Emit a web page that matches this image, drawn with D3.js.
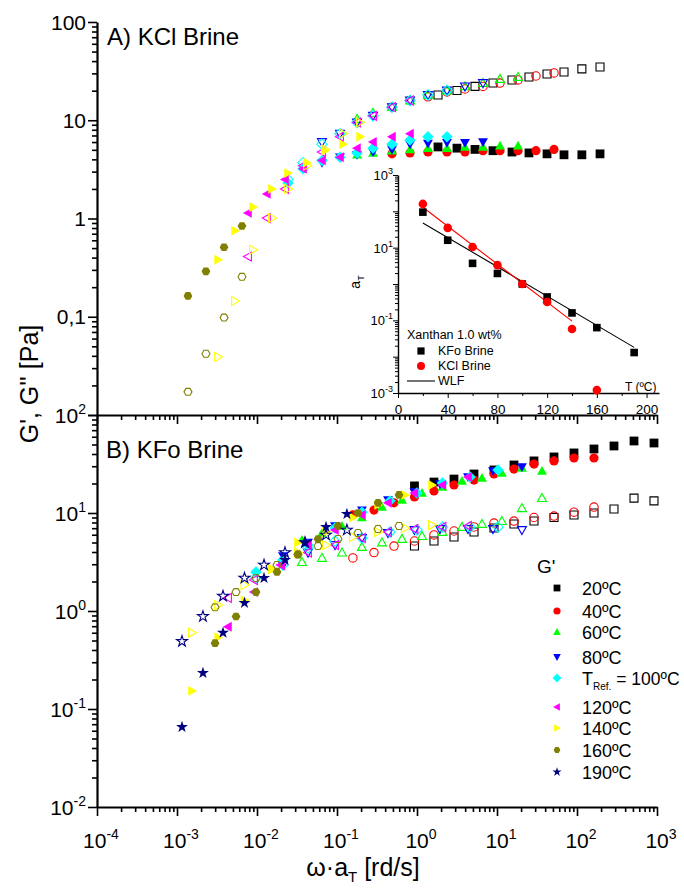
<!DOCTYPE html>
<html>
<head>
<meta charset="utf-8">
<script src="https://cdn.jsdelivr.net/npm/d3@7"></script>
<style>
body { margin: 0; background: #fff; }
text { font-family: "Liberation Sans", Arial, sans-serif; fill: #000; }
</style>
</head>
<body>
<svg id="chart" width="684" height="893"></svg>
<script>
// temperatures and labels
var tempLabels = ["20ºC", "40ºC", "60ºC", "80ºC", "100ºC", "120ºC", "140ºC", "160ºC", "190ºC"];

// A) KCl brine, one row per temperature (20..160 ºC)
var kclX = [
  [1.83, 3.16, 5.31, 8.91, 15.4, 25.1, 42.2, 68.8, 115, 194],
  [0.487, 0.818, 1.37, 2.37, 3.98, 6.68, 10.9, 18.3, 30.7, 51.6],
  [0.178, 0.282, 0.487, 0.818, 1.37, 2.37, 3.98, 6.68, 10.9, 18.3],
  [0.0649, 0.109, 0.178, 0.282, 0.487, 0.818, 1.37, 2.37, 3.98, 6.68],
  [0.0244, 0.0376, 0.0649, 0.109, 0.178, 0.282, 0.487, 0.818, 1.37, 2.37],
  [0.00772, 0.0133, 0.0224, 0.0376, 0.0649, 0.109, 0.178, 0.282, 0.487, 0.818],
  [0.00326, 0.00531, 0.00891, 0.0154, 0.0244, 0.0422, 0.0708, 0.119, 0.194],
  [0.00137, 0.0023, 0.00387, 0.00649]
];
var kclGp = [
  [5.35, 5.2, 5.05, 4.9, 4.75, 4.65, 4.55, 4.45, 4.45, 4.55],
  [4.55, 4.65, 4.75, 4.75, 4.75, 4.9, 4.9, 4.9, 4.9, 5.05],
  [4.45, 4.65, 4.9, 5.05, 5.2, 5.2, 5.35, 5.35, 5.5, 5.5],
  [3.7, 4.2, 4.45, 4.75, 5.05, 5.7, 5.8, 5.9, 5.9, 6.0],
  [2.3, 3.2, 3.9, 4.2, 4.65, 5.2, 5.7, 6.3, 6.8, 6.8],
  [1.14, 1.78, 2.5, 3.2, 3.9, 4.2, 5.2, 6.0, 6.8, 7.3],
  [0.38, 0.75, 1.31, 2.0, 2.9, 3.7, 4.9, 5.7, 6.8],
  [0.163, 0.29, 0.51, 0.84]
];
var kclGpp = [
  [18.1, 20.1, 22.1, 23.9, 25.7, 27.6, 29.6, 31.0, 33.3, 34.8],
  [13.6, 15.9, 17.3, 19.4, 20.8, 22.1, 23.9, 25.7, 28.2, 30.3],
  [10.3, 11.9, 13.6, 15.9, 18.1, 20.1, 22.1, 23.9, 26.3, 27.6],
  [6.0, 7.3, 9.5, 11.1, 13.6, 15.9, 18.1, 20.1, 22.1, 23.9],
  [2.5, 3.7, 5.7, 7.3, 9.5, 11.1, 13.6, 15.9, 18.1, 20.1],
  [0.41, 1.01, 2.0, 3.45, 4.75, 6.8, 9.5, 11.1, 13.6, 15.9],
  [0.039, 0.145, 0.48, 1.01, 2.0, 3.45, 5.05, 7.3, 9.5],
  [0.0172, 0.042, 0.098, 0.255]
];

// B) KFo brine, one row per temperature (20..190 ºC)
var kfoX = [
  [0.93, 1.63, 2.90, 5.16, 9.17, 16.3, 29.0, 51.6, 91.7, 163, 290, 516, 917],
  [0.158, 0.290, 0.516, 0.93, 1.63, 2.90, 5.16, 9.17, 16.3, 29.0, 51.6, 91.7, 163],
  [0.0365, 0.0649, 0.1155, 0.205, 0.365, 0.649, 1.155, 2.08, 3.65, 6.49, 11.5, 20.5, 36.5],
  [0.0211, 0.0434, 0.0944, 0.205, 0.434, 0.93, 1.94, 4.34, 8.91, 20.5],
  [0.00972, 0.0211, 0.0434, 0.0944, 0.205, 0.46, 1.0, 2.08, 4.6, 10.3],
  [0.00434, 0.00917, 0.02, 0.0434, 0.0944, 0.205, 0.434, 0.93, 2.08, 4.34],
  [0.00154, 0.00326, 0.00698, 0.0154, 0.0325, 0.0729, 0.158, 0.326, 0.708, 1.54],
  [0.00299, 0.00547, 0.00972, 0.0178, 0.0325, 0.0579, 0.103, 0.183, 0.326, 0.596],
  [0.001155, 0.00211, 0.00376, 0.00698, 0.01224, 0.0224, 0.0398, 0.0729, 0.133]
];
var kfoGp = [
  [18.9, 20.7, 22.2, 25.0, 27.5, 30.9, 34.0, 37.3, 41.0, 45.0, 48.3, 54.3, 51.8],
  [9.55, 10.7, 12.7, 14.6, 16.8, 19.3, 21.7, 25.0, 28.1, 31.6, 34.0, 36.4, 36.4],
  [5.3, 6.25, 7.37, 9.0, 11.5, 13.6, 16.0, 18.4, 21.2, 22.7, 25.6, 28.8, 26.8],
  [3.64, 5.0, 7.37, 10.7, 13.6, 16.4, 19.8, 23.3, 26.8, 29.5],
  [2.5, 3.31, 4.71, 7.03, 10.2, 13.3, 16.0, 20.2, 23.3, 27.5],
  [0.69, 1.56, 2.95, 4.71, 6.71, 9.55, 12.7, 16.0, 19.3, 23.3],
  [0.153, 0.54, 1.29, 2.68, 5.0, 6.4, 9.0, 12.1, 15.3, 19.3],
  [0.47, 0.88, 1.56, 2.5, 3.78, 5.43, 7.37, 10.0, 12.7, 15.3],
  [0.0655, 0.233, 0.6, 1.21, 2.17, 3.31, 5.0, 7.2, 9.77]
];
var kfoGpp = [
  [4.6, 5.18, 5.69, 6.4, 7.03, 7.72, 8.28, 9.0, 9.55, 10.0, 11.0, 14.2, 13.3],
  [3.48, 3.95, 4.6, 5.18, 5.97, 6.55, 7.2, 7.9, 8.28, 9.0, 9.3, 10.2, 11.5],
  [3.16, 3.48, 3.95, 4.5, 5.0, 5.43, 5.82, 6.4, 7.2, 7.72, 8.28, 11.2, 14.2],
  [2.95, 3.95, 4.71, 5.56, 6.25, 6.71, 6.87, 6.87, 6.87, 6.71],
  [2.17, 2.95, 4.4, 5.18, 5.56, 6.4, 6.71, 7.2, 7.2, 7.2],
  [1.36, 2.07, 2.95, 3.95, 4.71, 5.56, 6.4, 6.87, 7.2, 7.37],
  [0.6, 1.15, 1.84, 2.68, 3.95, 4.71, 5.69, 6.4, 7.03, 7.55],
  [1.09, 1.56, 2.17, 2.95, 3.78, 4.6, 5.43, 6.25, 6.87, 7.37],
  [0.49, 0.88, 1.42, 2.17, 2.95, 3.95, 5.0, 5.97, 6.71]
];

// inset: shift factor aT vs temperature
var insetTKFo = [20, 40, 60, 80, 100, 120, 140, 160, 190];
var insetAKFo = [95, 16, 3.7, 1.95, 1, 0.44, 0.16, 0.063, 0.013];
var insetTKCl = [20, 40, 60, 80, 100, 120, 140, 160];
var insetAKCl = [160, 35, 10.4, 3.3, 1, 0.32, 0.058, 0.0012];
var wlfTKFo = [20, 190], wlfAKFo = [48, 0.018];
var wlfTKCl = [20, 140], wlfAKCl = [130, 0.095];

// style per temperature
var colors = ["#000000", "#ff0000", "#00ff00", "#0000ff", "#00ffff", "#ff00ff", "#ffff00", "#808000", "#000080"];
var shapes = ["square", "circle", "up", "down", "diamond", "left", "right", "hex", "star"];

var svg = d3.select("#chart");

var X0 = 97, X1 = 657, Y0 = 22, YM = 415, Y1 = 807;
var x = d3.scaleLog().domain([1e-4, 1e3]).range([X0, X1]);
var yA = d3.scaleLog().domain([1e-2, 1e2]).range([YM, Y0]);
var yB = d3.scaleLog().domain([1e-2, 1e2]).range([Y1, YM]);

// marker path centred on 0,0
function markerPath(shape, r) {
  var a, b;
  switch (shape) {
    case "square": return "M" + (-r) + "," + (-r) + "H" + r + "V" + r + "H" + (-r) + "Z";
    case "circle": return "M" + r + ",0A" + r + "," + r + " 0 1,1 " + (-r) + ",0A" + r + "," + r + " 0 1,1 " + r + ",0Z";
    case "up": a = r * 1.15; b = r * 0.85;
      return "M0," + (-a) + "L" + (r * 1.12) + "," + b + "L" + (-r * 1.12) + "," + b + "Z";
    case "down": a = r * 1.15; b = r * 0.85;
      return "M0," + a + "L" + (r * 1.12) + "," + (-b) + "L" + (-r * 1.12) + "," + (-b) + "Z";
    case "left": a = r * 1.15; b = r * 0.85;
      return "M" + (-a) + ",0L" + b + "," + (-r * 1.12) + "L" + b + "," + (r * 1.12) + "Z";
    case "right": a = r * 1.15; b = r * 0.85;
      return "M" + a + ",0L" + (-b) + "," + (-r * 1.12) + "L" + (-b) + "," + (r * 1.12) + "Z";
    case "diamond": a = r * 1.3;
      return "M0," + (-a) + "L" + a + ",0L0," + a + "L" + (-a) + ",0Z";
    case "hex":
      return "M" + d3.range(6).map(function(i) {
        var t = Math.PI / 3 * i;
        return (r * Math.cos(t)).toFixed(2) + "," + (r * Math.sin(t)).toFixed(2);
      }).join("L") + "Z";
    case "star": return d3.symbol(d3.symbolStar, r * r * 2.3)();
  }
}

// log axis with minor ticks
function logAxis(axisFn, scale, lo, hi, tx, ty, big, small) {
  var majors = d3.range(lo, hi + 1).map(function(k) { return Math.pow(10, k); });
  var minors = [];
  for (var k = lo; k < hi; k++) for (var m = 2; m < 10; m++) minors.push(m * Math.pow(10, k));
  var g = svg.append("g").attr("transform", "translate(" + tx + "," + ty + ")");
  g.append("g").call(axisFn(scale).tickValues(minors).tickSize(small).tickFormat(""))
    .call(function(s) { s.select(".domain").remove(); });
  g.append("g").call(axisFn(scale).tickValues(majors).tickSize(big).tickSizeOuter(0).tickFormat(""));
  return g;
}

var axes = [
  logAxis(d3.axisLeft, yA, -2, 2, X0, 0, 9, 5),
  logAxis(d3.axisLeft, yB, -2, 2, X0, 0, 9, 5),
  logAxis(d3.axisBottom, x, -4, 3, 0, YM, 9, 5),
  logAxis(d3.axisBottom, x, -4, 3, 0, Y1, 9, 5)
];
axes.forEach(function(g) {
  g.selectAll(".domain").attr("stroke-width", 2.2);
  g.selectAll(".tick line").attr("stroke-width", 1.6);
});

// tick labels
var topLabels = [[100, "100"], [10, "10"], [1, "1"], [0.1, "0,1"]];
topLabels.forEach(function(d) {
  svg.append("text").attr("x", 86).attr("y", yA(d[0])).attr("dy", "0.36em")
    .attr("text-anchor", "end").attr("font-size", 21).text(d[1]);
});
function powLabel(px, py, exp, anchor, size, supSize, supRise) {
  var t = svg.append("text").attr("x", px).attr("y", py).attr("text-anchor", anchor).attr("font-size", size);
  t.append("tspan").text("10");
  t.append("tspan").attr("font-size", supSize).attr("dy", -supRise).text(exp);
  return t;
}
[2, 1, 0, -1, -2].forEach(function(k) {
  powLabel(86, yB(Math.pow(10, k)) + 7.5, String(k), "end", 21, 14, 9);
});
[-4, -3, -2, -1, 0, 1, 2, 3].forEach(function(k) {
  powLabel(x(Math.pow(10, k)) + 4, 848, String(k), "middle", 21, 14, 9);
});

// axis titles
svg.append("text").attr("transform", "translate(38,384) rotate(-90)")
  .attr("text-anchor", "middle").attr("font-size", 25).text("G', G'' [Pa]");
var xt = svg.append("text").attr("x", 363).attr("y", 876).attr("text-anchor", "middle").attr("font-size", 25);
xt.append("tspan").text("ω·a");
xt.append("tspan").attr("font-size", 15).attr("dy", 6).text("T");
xt.append("tspan").attr("dy", -6).text(" [rd/s]");

svg.append("text").attr("x", 107).attr("y", 45).attr("font-size", 24).text("A) KCl Brine");
svg.append("text").attr("x", 106).attr("y", 458).attr("font-size", 24).text("B) KFo Brine");

// data points
function drawSet(xs, gps, gpps, yScale) {
  xs.forEach(function(row, i) {
    var pts = row.map(function(v, j) { return { x: v, gp: gps[i][j], gpp: gpps[i][j] }; });
    var g = svg.append("g");
    var r = shapes[i] === "circle" ? 4.6 : 4.4;
    g.selectAll(".f").data(pts).enter().append("path")
      .attr("d", markerPath(shapes[i], r))
      .attr("transform", function(d) { return "translate(" + x(d.x) + "," + yScale(d.gp) + ")"; })
      .attr("fill", colors[i]);
    g.selectAll(".o").data(pts).enter().append("path")
      .attr("d", markerPath(shapes[i], r - 0.4))
      .attr("transform", function(d) { return "translate(" + x(d.x) + "," + yScale(d.gpp) + ")"; })
      .attr("fill", "none").attr("stroke", colors[i]).attr("stroke-width", 1.1);
  });
}
drawSet(kclX, kclGp, kclGpp, yA);
drawSet(kfoX, kfoGp, kfoGpp, yB);

// legend
svg.append("text").attr("x", 537).attr("y", 573).attr("font-size", 19).text("G'");
var legendRows = [588, 611, 632, 657, 678, 707, 728, 750, 772];
tempLabels.forEach(function(lab, i) {
  var cy = legendRows[i];
  svg.append("path").attr("d", markerPath(shapes[i], shapes[i] === "circle" ? 3.6 : 3.4))
    .attr("transform", "translate(557," + cy + ")").attr("fill", colors[i]);
  var t = svg.append("text").attr("x", 582).attr("y", cy + 6.5).attr("font-size", 18);
  if (i === 4) {
    t.append("tspan").text("T");
    t.append("tspan").attr("font-size", 10).attr("dy", 5).text("Ref.");
    t.append("tspan").attr("dy", -5).attr("font-size", 17.5).text(" = " + lab);
  } else {
    t.text(lab);
  }
});

// inset
var xi = d3.scaleLinear().domain([0, 210]).range([398, 659]);
var yi = d3.scaleLog().domain([1e-3, 1e3]).range([393, 175]);

var gix = svg.append("g").attr("transform", "translate(0,393)");
gix.append("g").call(d3.axisBottom(xi).tickValues([20, 60, 100, 140, 180]).tickSize(3).tickFormat(""))
  .call(function(s) { s.select(".domain").remove(); });
gix.append("g").call(d3.axisBottom(xi).tickValues([0, 40, 80, 120, 160, 200]).tickSize(5).tickSizeOuter(0))
  .call(function(s) {
    s.selectAll("text").attr("font-size", 13.5).attr("fill", "#000").attr("dy", "0.95em")
      .attr("font-family", "Liberation Sans, Arial, sans-serif");
  });
var giy = logAxis(d3.axisLeft, yi, -3, 3, 398, 0, 5, 3);
[gix, giy].forEach(function(g) {
  g.selectAll(".domain").attr("stroke-width", 1.4);
  g.selectAll(".tick line").attr("stroke-width", 1);
});
[3, 1, -1, -3].forEach(function(k) {
  powLabel(393, yi(Math.pow(10, k)) + 5, String(k), "end", 13, 9, 6);
});
svg.append("text").attr("transform", "translate(360,282) rotate(-90)").attr("text-anchor", "middle")
  .attr("font-size", 14).call(function(t) {
    t.append("tspan").text("a");
    t.append("tspan").attr("font-size", 9).attr("dy", 4).text("T");
  });
svg.append("text").attr("x", 625).attr("y", 391).attr("font-size", 12).text("T (ºC)");

var lineI = d3.line().x(function(d) { return xi(d[0]); }).y(function(d) { return yi(d[1]); });
svg.append("path").datum(d3.zip(wlfTKFo, wlfAKFo)).attr("d", lineI)
  .attr("fill", "none").attr("stroke", "#000").attr("stroke-width", 1.1);
svg.append("path").datum(d3.zip(wlfTKCl, wlfAKCl)).attr("d", lineI)
  .attr("fill", "none").attr("stroke", "#ff0000").attr("stroke-width", 1.1);

svg.append("g").selectAll("path").data(d3.zip(insetTKFo, insetAKFo)).enter().append("path")
  .attr("d", markerPath("square", 3.8))
  .attr("transform", function(d) { return "translate(" + xi(d[0]) + "," + yi(d[1]) + ")"; })
  .attr("fill", "#000");
svg.append("g").selectAll("path").data(d3.zip(insetTKCl, insetAKCl)).enter().append("path")
  .attr("d", markerPath("circle", 4.3))
  .attr("transform", function(d) { return "translate(" + xi(d[0]) + "," + yi(d[1]) + ")"; })
  .attr("fill", "#ff0000");

// inset legend
svg.append("text").attr("x", 407).attr("y", 339).attr("font-size", 12.5).text("Xanthan 1.0 wt%");
svg.append("path").attr("d", markerPath("square", 3.6)).attr("transform", "translate(421,351)").attr("fill", "#000");
svg.append("text").attr("x", 438).attr("y", 355).attr("font-size", 12.5).text("KFo Brine");
svg.append("path").attr("d", markerPath("circle", 4)).attr("transform", "translate(421,366)").attr("fill", "#ff0000");
svg.append("text").attr("x", 438).attr("y", 370).attr("font-size", 12.5).text("KCl Brine");
svg.append("line").attr("x1", 407).attr("x2", 435).attr("y1", 381).attr("y2", 381).attr("stroke", "#000").attr("stroke-width", 1.1);
svg.append("text").attr("x", 438).attr("y", 385).attr("font-size", 12.5).text("WLF");
</script>
</body>
</html>
